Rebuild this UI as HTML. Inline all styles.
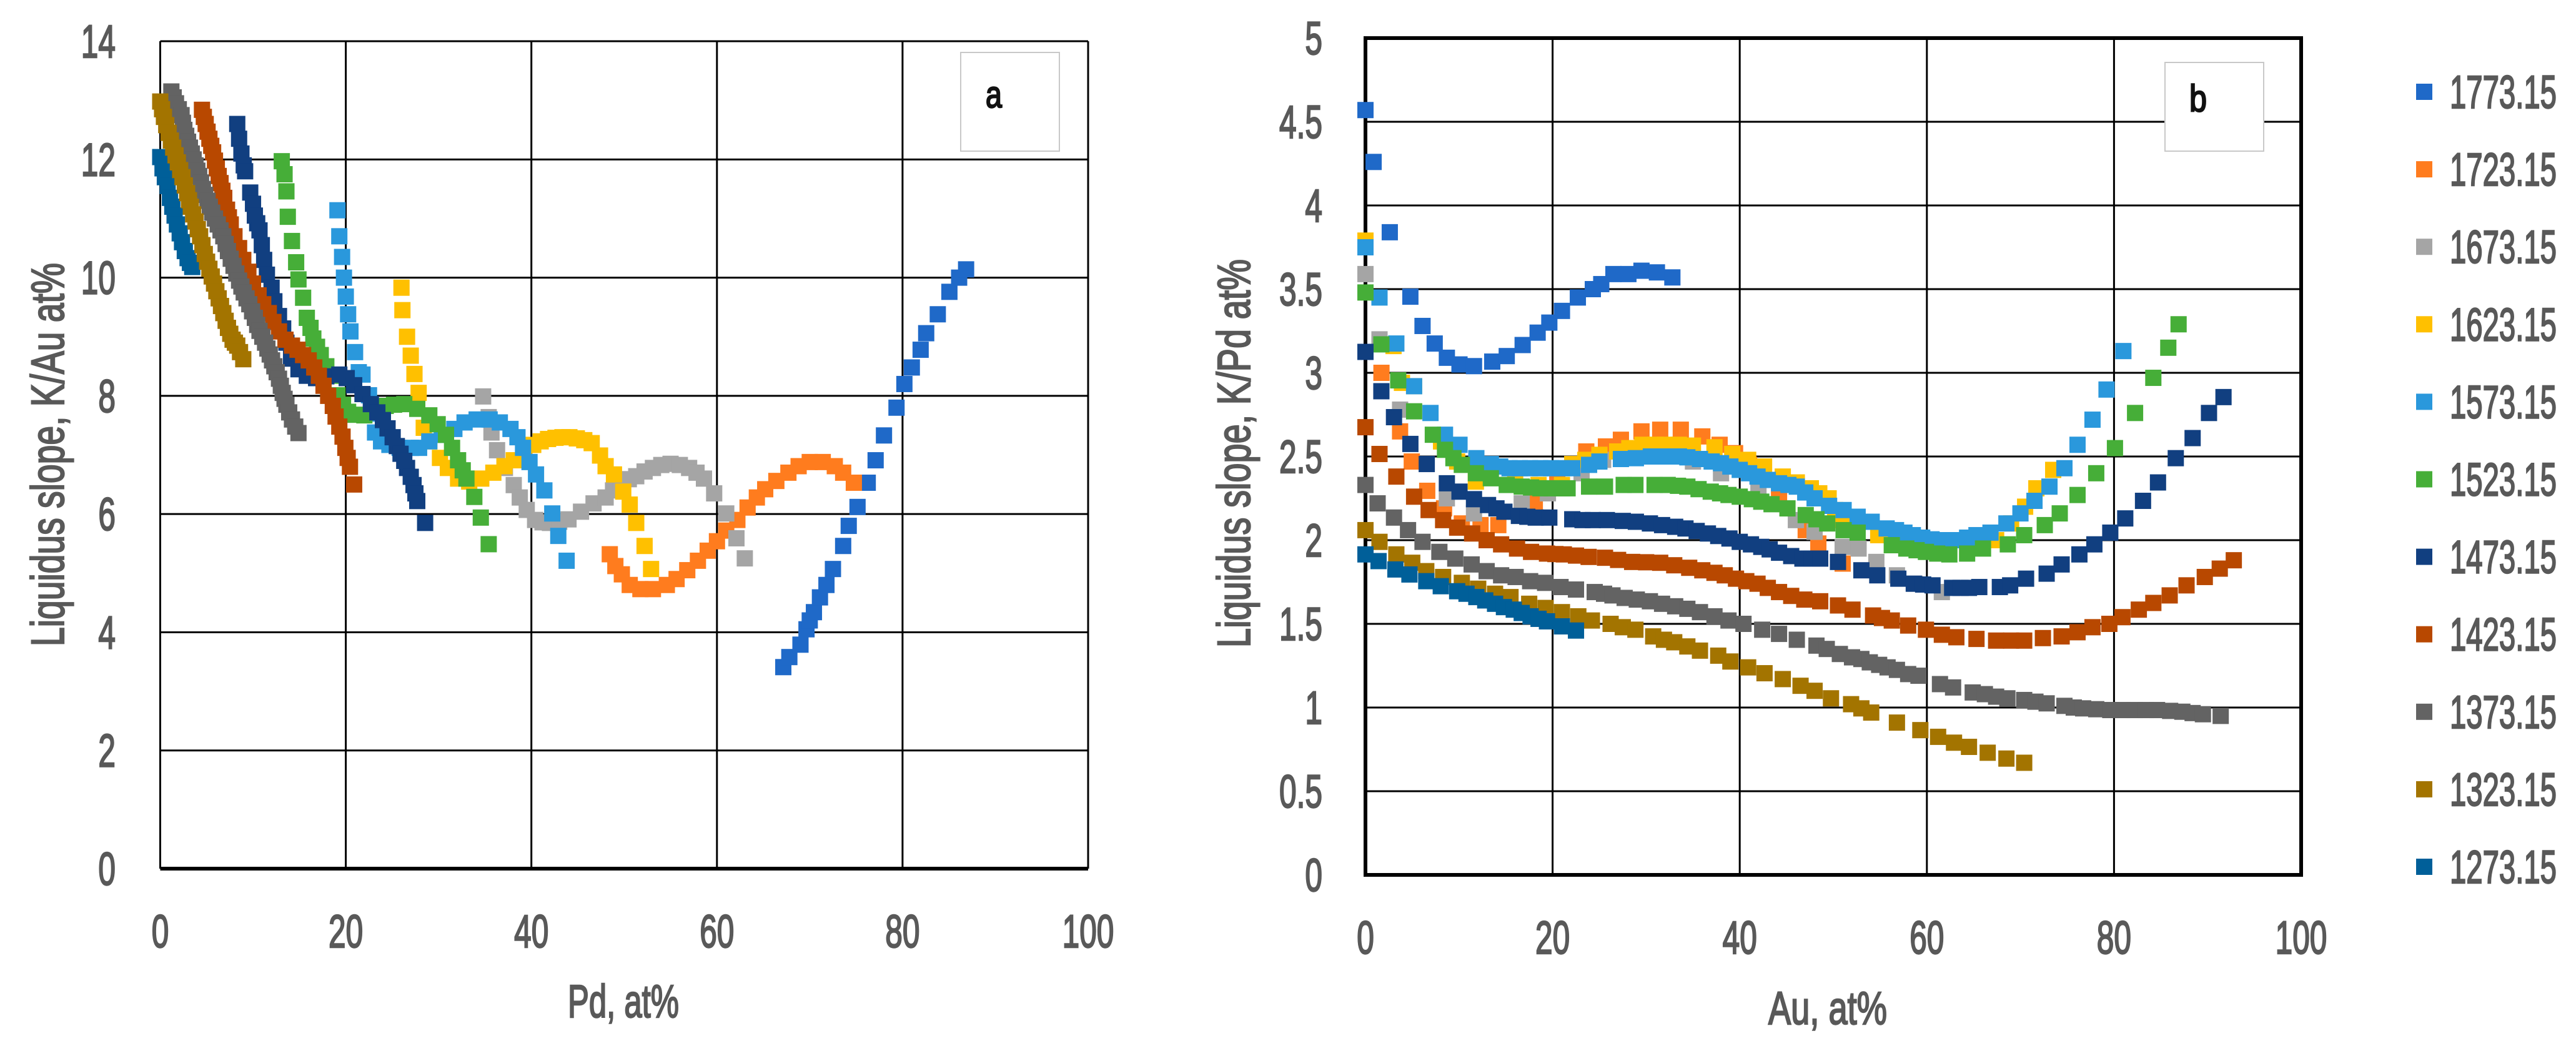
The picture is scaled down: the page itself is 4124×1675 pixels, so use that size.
<!DOCTYPE html>
<html lang="en">
<head>
<meta charset="utf-8">
<title>Liquidus slope charts</title>
<style>
html,body{margin:0;padding:0;background:#fff;}
body{width:4124px;height:1675px;overflow:hidden;}
svg{display:block;position:absolute;left:0;top:0;}
text{font-family:"Liberation Sans",sans-serif;fill:#595959;stroke:#595959;stroke-width:2.4px;}
</style>
</head>
<body>
<svg id="figure" xmlns="http://www.w3.org/2000/svg" width="4124" height="1675" viewBox="0 0 4124 1675">
  <g id="panelA"></g>
  <g id="panelB"></g>
  <g id="legend"></g>
</svg>
<script>
const xTickLabels=[0,20,40,60,80,100];
const yTickLabelsA=[0,2,4,6,8,10,12,14];
const yTickLabelsB=["0","0.5","1","1.5","2","2.5","3","3.5","4","4.5","5"];
const temperatures=["1773.15","1723.15","1673.15","1623.15","1573.15","1523.15","1473.15","1423.15","1373.15","1323.15","1273.15"];
const seriesColors=["#1f69c8","#ff7c1e","#a5a5a5","#ffc000","#2a98dc","#46ae38","#113f80","#b84800","#636363","#a37400","#005f99"];

/* Panel a: [Pd at%, slope] */
const a1773=[[67.15,3.41],[67.8,3.58],[69,3.79],[69.65,4.05],[70,4.2],[70.45,4.34],[71.1,4.59],[71.8,4.8],[72.5,5.07],[73.6,5.46],[74.2,5.8],[75.15,6.12],[76.25,6.53],[77.1,6.91],[78,7.33],[79.35,7.8],[80.2,8.2],[81,8.48],[81.95,8.78],[82.55,9.06],[83.8,9.38],[85.05,9.76],[86.1,10],[86.85,10.14]];
const a1723=[[48.45,5.32],[49.05,5.12],[49.75,4.98],[50.6,4.8],[51.75,4.73],[53.1,4.73],[54.6,4.8],[55.65,4.9],[56.8,5.05],[57.95,5.21],[59,5.38],[60,5.54],[61,5.72],[62.2,5.9],[63.3,6.11],[64.3,6.28],[65.2,6.42],[66.4,6.56],[67.7,6.7],[68.8,6.81],[70,6.88],[71.4,6.88],[72.7,6.81],[73.6,6.7],[74.75,6.53]];
const a1673=[[34.8,7.99],[35.4,7.64],[35.7,7.38],[36.3,7.08],[37.15,6.78],[38.1,6.49],[38.75,6.28],[39.5,6.07],[40.4,5.9],[41.2,5.86],[42,5.85],[43,5.87],[44,5.91],[45.35,6.04],[46.7,6.18],[48,6.28],[48.8,6.4],[49.6,6.53],[50.5,6.59],[51.3,6.64],[52.2,6.72],[53.1,6.78],[54,6.83],[55,6.85],[56,6.83],[57,6.78],[57.8,6.7],[58.6,6.6],[59.7,6.35],[61,6.01],[62.1,5.59],[63,5.25]];
const a1623=[[26,9.83],[26.1,9.45],[26.6,9],[27,8.68],[27.4,8.37],[27.85,8.05],[28.4,7.46],[29,7.23],[30.15,6.95],[31,6.78],[32.1,6.6],[33.3,6.55],[34.6,6.6],[35.9,6.7],[37.1,6.81],[38.1,6.91],[39.2,7.05],[40.2,7.17],[41,7.23],[41.8,7.27],[42.6,7.29],[43.35,7.3],[44.1,7.3],[44.9,7.28],[45.7,7.25],[46.5,7.2],[47.4,6.99],[48,6.81],[48.9,6.67],[49.9,6.38],[50.6,6.16],[51.3,5.85],[52.2,5.46],[52.9,5.07]];
const a1573=[[19.1,11.14],[19.3,10.7],[19.6,10.35],[19.8,10],[20,9.68],[20.25,9.38],[20.5,9.09],[21,8.74],[21.4,8.4],[21.8,8.36],[22.5,8.01],[22.8,7.7],[23.15,7.38],[23.8,7.23],[24.7,7.17],[25.8,7.12],[27,7.12],[27.9,7.12],[29,7.23],[30.35,7.34],[31.7,7.44],[32.8,7.55],[34.1,7.6],[35.5,7.6],[36.6,7.55],[37.75,7.44],[38.5,7.3],[39.1,7.12],[39.8,6.88],[40.5,6.67],[41.4,6.4],[42.25,6.01],[42.9,5.63],[43.8,5.21]];
const a1523=[[13.1,11.97],[13.4,11.75],[13.6,11.46],[13.75,11.03],[14.2,10.62],[14.65,10.26],[14.9,9.97],[15.4,9.66],[15.8,9.32],[16.2,9.15],[16.5,8.97],[16.9,8.83],[17.3,8.69],[17.9,8.5],[18.4,8.34],[19.1,8.01],[19.7,7.85],[20.25,7.73],[21,7.68],[22,7.67],[23.35,7.73],[24.3,7.83],[25.2,7.85],[26.3,7.86],[27.7,7.78],[29,7.67],[29.9,7.52],[30.8,7.34],[31.45,7.12],[32.1,6.91],[32.6,6.74],[33,6.6],[33.85,6.29],[34.55,5.94],[35.4,5.49]];
const a1473=[[8.3,12.6],[8.5,12.35],[8.75,12.1],[9,11.9],[9.15,11.8],[9.7,11.44],[10,11.25],[10.2,11.05],[10.45,10.92],[10.7,10.8],[10.95,10.55],[11.2,10.3],[11.5,10.05],[12,9.83],[12.3,9.6],[12.8,9.35],[13.25,9.14],[13.6,8.9],[14.1,8.63],[14.9,8.45],[15.8,8.34],[16.8,8.3],[17.9,8.33],[19.3,8.36],[20.1,8.3],[20.9,8.18],[21.8,8.03],[22.7,7.86],[23.4,7.72],[24,7.59],[24.5,7.45],[25.05,7.3],[25.5,7.15],[25.9,7.02],[26.3,6.9],[26.6,6.78],[27,6.63],[27.3,6.49],[27.5,6.35],[27.7,6.22],[28.55,5.85]];
const a1423=[[4.5,12.84],[4.7,12.72],[4.9,12.6],[5.1,12.47],[5.3,12.35],[5.5,12.23],[5.7,12.12],[5.9,11.98],[6.1,11.85],[6.3,11.72],[6.5,11.6],[6.7,11.47],[6.9,11.35],[7.2,11.15],[7.4,11.02],[7.6,10.9],[8,10.7],[8.5,10.5],[8.95,10.3],[9.5,10.1],[10,9.9],[10.6,9.7],[11.1,9.55],[11.7,9.4],[12.2,9.25],[12.8,9.09],[13.5,8.95],[14.2,8.85],[14.8,8.78],[15.4,8.69],[16,8.6],[16.6,8.48],[17.1,8.34],[17.6,8.17],[18.1,8],[18.6,7.83],[18.9,7.65],[19.3,7.48],[19.65,7.31],[19.95,7.12],[20.2,6.95],[20.45,6.8],[20.9,6.5]];
const a1373=[[1.2,13.15],[1.45,13.05],[1.7,12.95],[2,12.85],[2.3,12.75],[2.45,12.62],[2.6,12.5],[2.8,12.4],[3,12.3],[3.2,12.2],[3.4,12.1],[3.6,12],[3.8,11.9],[4,11.81],[4.2,11.72],[4.4,11.61],[4.6,11.5],[4.85,11.4],[5.1,11.3],[5.35,11.2],[5.6,11.1],[5.9,11],[6.2,10.9],[6.5,10.8],[6.8,10.7],[7.05,10.57],[7.3,10.45],[7.6,10.32],[7.9,10.2],[8.2,10.07],[8.5,9.95],[8.75,9.85],[9,9.75],[9.3,9.65],[9.6,9.55],[9.9,9.43],[10.2,9.32],[10.45,9.2],[10.7,9.1],[11,9],[11.3,8.9],[11.55,8.8],[11.8,8.7],[12.05,8.6],[12.3,8.5],[12.55,8.4],[12.8,8.29],[13,8.17],[13.2,8.05],[13.4,7.95],[13.6,7.85],[13.9,7.72],[14.2,7.6],[14.55,7.48],[14.9,7.37]];
const a1323=[[0,12.98],[0.2,12.85],[0.4,12.72],[0.65,12.58],[0.9,12.45],[1.15,12.32],[1.4,12.2],[1.65,12.07],[1.9,11.95],[2.15,11.82],[2.4,11.7],[2.65,11.56],[2.9,11.43],[3.1,11.31],[3.3,11.2],[3.55,11.07],[3.8,10.95],[4.05,10.82],[4.3,10.7],[4.55,10.55],[4.8,10.4],[5.05,10.27],[5.3,10.15],[5.55,10.02],[5.8,9.9],[6.05,9.77],[6.3,9.65],[6.55,9.52],[6.8,9.4],[7.05,9.27],[7.3,9.15],[7.55,9.05],[7.8,8.95],[8.05,8.9],[8.3,8.85],[8.6,8.74],[8.95,8.62]];
const a1273=[[0,12.04],[0.25,11.85],[0.5,11.7],[0.8,11.55],[1.05,11.35],[1.3,11.2],[1.55,11.05],[1.8,10.9],[2.1,10.75],[2.35,10.6],[2.65,10.45],[2.95,10.33],[3.2,10.25],[3.45,10.18]];

/* Panel b: [Au at%, slope] */
const b1773=[[0,4.57],[0.87,4.26],[2.6,3.84],[4.8,3.455],[6.1,3.28],[7.4,3.175],[8.7,3.09],[10.05,3.05],[11.6,3.04],[13.55,3.067],[15.1,3.1],[16.8,3.166],[18.4,3.24],[19.65,3.3],[21,3.37],[22.7,3.45],[24.3,3.5],[25.2,3.53],[26.5,3.59],[28.1,3.59],[29.5,3.61],[31.15,3.6],[32.8,3.57]];
const b1723=[[0,3.77],[1.71,3],[3.7,2.65],[4.95,2.47],[6.6,2.295],[8.4,2.19],[10.3,2.1],[12.3,2.09],[14.2,2.09],[18.1,2.22],[20.5,2.37],[23.6,2.53],[25.7,2.56],[27.3,2.6],[29.5,2.65],[31.5,2.66],[33.7,2.66],[36,2.62],[37.85,2.57],[39.5,2.52],[41,2.45],[42.5,2.37],[44.2,2.27],[47.05,2.06],[48.4,1.98],[51,1.86]];
const b1673=[[0,3.59],[1.5,3.2],[3.7,2.78],[8.7,2.25],[11.6,2.16],[16.7,2.22],[19.5,2.28],[23.1,2.4],[25.4,2.48],[30,2.5],[35,2.47],[38,2.4],[42,2.3],[46,2.12],[48,2.05],[51,1.96],[52.7,1.95],[54.6,1.87],[56.8,1.79],[58.7,1.74],[61.6,1.69]];
const b1623=[[0,3.79],[3,3.16],[3.9,2.94],[5.2,2.92],[8.08,2.59],[9.8,2.47],[11.8,2.35],[16,2.35],[18.5,2.33],[21,2.33],[22.1,2.455],[23.5,2.48],[25,2.51],[26.9,2.53],[28.2,2.55],[29.6,2.57],[31,2.57],[32,2.57],[33.5,2.57],[35,2.565],[37.3,2.555],[39.2,2.515],[40.9,2.48],[42.6,2.44],[44.6,2.38],[46.1,2.345],[47.6,2.31],[48.5,2.28],[49.5,2.25],[50.2,2.18],[51,2.12],[52.5,2.08],[54.8,2.03],[56.5,1.99],[58.9,1.95],[61.2,1.93],[67.4,2],[69,2.1],[70.5,2.2],[71.7,2.31],[73.5,2.42]];
const b1573=[[0,3.75],[1.5,3.45],[3.3,3.175],[5.2,2.92],[6.95,2.76],[8.5,2.63],[10.05,2.57],[11.85,2.49],[13.4,2.455],[14.4,2.44],[15.4,2.43],[16.5,2.43],[17.6,2.43],[18.7,2.43],[19.85,2.43],[21,2.43],[22.1,2.43],[23.9,2.45],[25,2.47],[27.3,2.485],[28.9,2.49],[30.5,2.5],[32,2.5],[33.5,2.5],[34.4,2.495],[35.75,2.485],[37,2.47],[38,2.46],[39,2.44],[40,2.42],[41,2.4],[41.9,2.38],[43,2.36],[44.2,2.34],[45.2,2.33],[46.1,2.32],[47,2.285],[48,2.25],[49.55,2.205],[51.1,2.18],[52.6,2.14],[54.1,2.11],[55.7,2.07],[56.7,2.06],[57.6,2.045],[58.5,2.03],[59.5,2.015],[60.5,2.005],[61.4,2],[62.3,2],[63.3,2],[64.3,2.015],[65.3,2.03],[66.8,2.045],[68.5,2.1],[70,2.16],[71.5,2.235],[73.1,2.32],[74.7,2.43],[76.1,2.57],[77.7,2.72],[79.2,2.9],[81,3.13]];
const b1523=[[0,3.48],[1.7,3.17],[3.5,2.955],[5.2,2.77],[7.2,2.63],[8.5,2.54],[9.4,2.49],[10.3,2.45],[11.8,2.4],[13.4,2.37],[15.1,2.33],[16.7,2.32],[17.7,2.315],[18.7,2.31],[19.9,2.31],[21,2.31],[21.6,2.31],[23.9,2.32],[25.6,2.32],[27.6,2.33],[28.85,2.33],[30.9,2.33],[32.3,2.33],[33.4,2.325],[34.4,2.32],[35.6,2.305],[36.9,2.29],[37.9,2.28],[38.8,2.27],[40,2.26],[41.3,2.245],[42.3,2.23],[43.4,2.215],[45.1,2.19],[47.05,2.15],[48.2,2.125],[49.35,2.1],[51.1,2.06],[52.6,2.045],[56.25,1.97],[57.8,1.95],[58.9,1.94],[59.9,1.93],[61.1,1.92],[62.4,1.915],[64.3,1.92],[66,1.95],[68.65,1.975],[70.4,2.03],[72.6,2.09],[74.2,2.16],[76.1,2.27],[78.1,2.4],[80.1,2.55],[82.25,2.76],[84.2,2.97],[85.8,3.15],[86.9,3.29]];
const b1473=[[0,3.125],[1.7,2.89],[3.05,2.735],[4.8,2.575],[6.55,2.455],[8.7,2.34],[10.05,2.29],[11.6,2.245],[13.1,2.21],[14,2.19],[14.85,2.17],[16.4,2.145],[17.3,2.14],[18.2,2.135],[19.65,2.135],[22.1,2.125],[23.2,2.12],[24.3,2.12],[25.8,2.12],[27.5,2.115],[28.9,2.11],[30.4,2.1],[31.7,2.09],[33.1,2.08],[34.2,2.07],[35.4,2.055],[36.6,2.04],[37.7,2.025],[38.9,2.01],[40,1.99],[41.2,1.975],[42.3,1.96],[43.2,1.945],[44.2,1.925],[45.5,1.905],[46.7,1.89],[47.7,1.89],[48.6,1.89],[50.5,1.87],[53,1.82],[54.7,1.79],[56.95,1.77],[58.6,1.74],[59.6,1.735],[60.6,1.73],[62.7,1.715],[63.6,1.715],[64.5,1.715],[65.6,1.72],[67.8,1.72],[68.9,1.73],[70.6,1.77],[72.8,1.8],[74.4,1.855],[76.3,1.915],[77.9,1.975],[79.6,2.045],[81.2,2.13],[83.1,2.235],[84.7,2.345],[86.6,2.49],[88.4,2.61],[90.15,2.76],[91.7,2.855]];
const b1423=[[0,2.675],[1.5,2.515],[3.3,2.38],[5.2,2.26],[6.75,2.18],[8.3,2.12],[9.8,2.075],[11.4,2.04],[12.95,2],[14.5,1.975],[16.2,1.95],[17.7,1.93],[19.4,1.92],[20.3,1.917],[21.2,1.915],[22.5,1.908],[23.85,1.9],[25.6,1.895],[27,1.882],[28.5,1.87],[30,1.868],[31.5,1.865],[33,1.85],[34.6,1.835],[36,1.82],[37.3,1.805],[38.4,1.79],[39.6,1.77],[40.7,1.755],[41.9,1.74],[43,1.715],[44.2,1.69],[45.5,1.667],[46.9,1.645],[48.6,1.635],[50.5,1.61],[52.05,1.585],[54.25,1.55],[55.2,1.535],[56.25,1.52],[58,1.49],[59.9,1.465],[61.6,1.435],[63.15,1.42],[65.3,1.41],[67.4,1.4],[69,1.4],[70.4,1.4],[72.4,1.415],[74.4,1.425],[76.1,1.45],[77.7,1.48],[79.5,1.5],[80.9,1.54],[82.65,1.585],[84.2,1.625],[85.95,1.67],[87.75,1.73],[89.7,1.78],[91.3,1.83],[92.8,1.88]];
const b1373=[[0,2.33],[1.3,2.22],[3.05,2.135],[4.55,2.06],[6.1,1.99],[7.9,1.93],[9.6,1.89],[11.35,1.855],[12.95,1.815],[14.5,1.79],[16.05,1.78],[17.6,1.755],[19.2,1.745],[20.85,1.72],[22.5,1.705],[24.5,1.69],[25.5,1.68],[26.4,1.67],[27.7,1.655],[29,1.645],[30.4,1.635],[31.7,1.62],[33.1,1.605],[34.4,1.59],[35.75,1.57],[37.3,1.545],[38.8,1.52],[40.4,1.5],[42.4,1.465],[44.2,1.44],[46.1,1.405],[48.2,1.37],[49.3,1.35],[50.7,1.32],[52,1.3],[53,1.29],[53.9,1.27],[54.9,1.255],[55.8,1.24],[56.8,1.225],[58,1.2],[59.1,1.19],[61.4,1.14],[62.8,1.12],[64.9,1.09],[66.2,1.08],[67.4,1.065],[68.6,1.055],[70.4,1.045],[71.6,1.035],[72.8,1.025],[74.7,1.01],[75.7,1],[76.7,0.995],[78.1,0.99],[79.6,0.985],[80.9,0.985],[82.2,0.985],[83.4,0.985],[84.6,0.985],[86,0.98],[87.3,0.975],[88.4,0.967],[89.5,0.96],[91.4,0.95]];
const b1323=[[0,2.06],[1.5,1.99],[3.3,1.915],[5,1.865],[6.5,1.815],[8.3,1.78],[10.3,1.745],[12.05,1.71],[13.85,1.68],[15.5,1.66],[17.5,1.62],[19.25,1.595],[21,1.57],[22.75,1.545],[24.2,1.52],[26.2,1.5],[27.5,1.48],[28.85,1.465],[30.75,1.425],[31.9,1.405],[33,1.39],[34.4,1.365],[35.75,1.34],[37.7,1.31],[39,1.275],[40.9,1.24],[42.65,1.205],[44.6,1.17],[46.5,1.13],[48,1.1],[49.75,1.055],[51.9,1.02],[53,0.995],[54.05,0.97],[56.8,0.91],[59.3,0.865],[61.2,0.825],[62.9,0.79],[64.5,0.765],[66.5,0.73],[68.5,0.695],[70.4,0.67]];
const b1273=[[0,1.915],[1.4,1.875],[3.2,1.825],[4.7,1.795],[6.5,1.755],[8.05,1.725],[9.8,1.695],[10.8,1.68],[11.85,1.66],[12.8,1.64],[13.85,1.62],[14.8,1.6],[15.85,1.585],[16.7,1.565],[17.65,1.545],[18.5,1.53],[19.4,1.515],[21,1.485],[22.5,1.46]];

const seriesA=[a1773,a1723,a1673,a1623,a1573,a1523,a1473,a1423,a1373,a1273,a1323];
const seriesAKeys=[0,1,2,3,4,5,6,7,8,10,9];
const seriesB=[b1773,b1723,b1673,b1623,b1573,b1523,b1473,b1423,b1373,b1323,b1273];
const seriesBKeys=[0,1,2,3,4,5,6,7,8,9,10];

const NS="http://www.w3.org/2000/svg";
const xA=v=>256.5+v*14.855;
const yA=v=>1391-v*94.64;
const xB=v=>2186+v*14.98;
const yB=v=>1401-v*268;
const MARK=26, FS=74, DIGIT=27.6;

function el(tag,parent){const e=document.createElementNS(NS,tag);parent.appendChild(e);return e;}
function line(parent,x1,y1,x2,y2,w){
  const l=el("line",parent);
  l.setAttribute("x1",x1);l.setAttribute("y1",y1);l.setAttribute("x2",x2);l.setAttribute("y2",y2);
  l.setAttribute("stroke","#000");l.setAttribute("stroke-width",w);
  
  
  return l;
}
function label(parent,str,x,y,anchor,name,len,rot){
  const t=el("text",parent);
  t.textContent=str;
  t.setAttribute("font-size",FS);
  t.setAttribute("text-anchor",anchor);
  t.setAttribute("textLength",len);
  t.setAttribute("lengthAdjust","spacingAndGlyphs");
  if(rot){t.setAttribute("transform","translate("+x+","+y+") rotate(-90)");t.setAttribute("x",0);t.setAttribute("y",0);}
  else{t.setAttribute("x",x);t.setAttribute("y",y);}
  
  
  return t;
}
function textLen(s){let n=0;for(const c of String(s)){n+=(c==="."?DIGIT*0.5:DIGIT);}return n;}
function marks(parent,pts,color,xf,yf,name){
  const g=el("g",parent);
  g.setAttribute("fill",color);
  
  
  pts.forEach(p=>{
    const r=el("rect",g);
    r.setAttribute("x",xf(p[0])-MARK/2);
    r.setAttribute("y",yf(p[1])-MARK/2);
    r.setAttribute("width",MARK);
    r.setAttribute("height",MARK);
    
    
  });
}

/* Panel a */
const pa=document.getElementById("panelA");
yTickLabelsA.forEach(v=>{
  line(pa,xA(0),yA(v),xA(100),yA(v),v===0?6:3);
  label(pa,String(v),185,yA(v)+26,"end","y-tick-label",textLen(v));
});
xTickLabels.forEach(v=>{
  line(pa,xA(v),yA(14),xA(v),yA(0),3);
  label(pa,String(v),xA(v),1517,"middle","x-tick-label",textLen(v));
});
seriesA.forEach((s,i)=>marks(pa,s,seriesColors[seriesAKeys[i]],xA,yA,"series-a-"+temperatures[seriesAKeys[i]]));
label(pa,"Pd, at%",998,1629,"middle","x-axis-title",178);
label(pa,"Liquidus slope, K/Au at%",102,728,"middle","y-axis-title",614,true);
const boxA=el("rect",pa);
boxA.setAttribute("x",1538);boxA.setAttribute("y",84);boxA.setAttribute("width",158);boxA.setAttribute("height",158);
boxA.setAttribute("fill","#fff");boxA.setAttribute("stroke","#c8c8c8");boxA.setAttribute("stroke-width",2);


const ta=label(pa,"a",1591,172,"middle","panel-a-label",26);
ta.setAttribute("font-size",60);ta.style.fill="#111";ta.style.stroke="#111";

/* Panel b */
const pb=document.getElementById("panelB");
yTickLabelsB.forEach(v=>{
  const n=parseFloat(v);
  line(pb,xB(0),yB(n),xB(100),yB(n),(n===0||n===5)?6:3);
  label(pb,v,2117,yB(n)+26,"end","y-tick-label",textLen(v));
});
xTickLabels.forEach(v=>{
  line(pb,xB(v),yB(5)-3,xB(v),yB(0)+3,(v===0||v===100)?6:3);
  label(pb,String(v),xB(v),1527,"middle","x-tick-label",textLen(v));
});
seriesB.forEach((s,i)=>marks(pb,s,seriesColors[seriesBKeys[i]],xB,yB,"series-b-"+temperatures[seriesBKeys[i]]));
label(pb,"Au, at%",2926,1640,"middle","x-axis-title",190);
label(pb,"Liquidus slope, K/Pd at%",2001,726,"middle","y-axis-title",622,true);
const boxB=el("rect",pb);
boxB.setAttribute("x",3466);boxB.setAttribute("y",100);boxB.setAttribute("width",158);boxB.setAttribute("height",142);
boxB.setAttribute("fill","#fff");boxB.setAttribute("stroke","#c8c8c8");boxB.setAttribute("stroke-width",2);


const tb=label(pb,"b",3519,178,"middle","panel-b-label",28);
tb.setAttribute("font-size",60);tb.style.fill="#111";tb.style.stroke="#111";

/* Legend */
const lg=document.getElementById("legend");
temperatures.forEach((name,i)=>{
  const cy=147+i*124.1;
  const r=el("rect",lg);
  r.setAttribute("x",3881-MARK/2);r.setAttribute("y",cy-MARK/2);r.setAttribute("width",MARK);r.setAttribute("height",MARK);
  r.setAttribute("fill",seriesColors[i]);
  
  
  label(lg,name,3922,cy+26,"start","legend-label",171);
});
</script>
</body>
</html>
